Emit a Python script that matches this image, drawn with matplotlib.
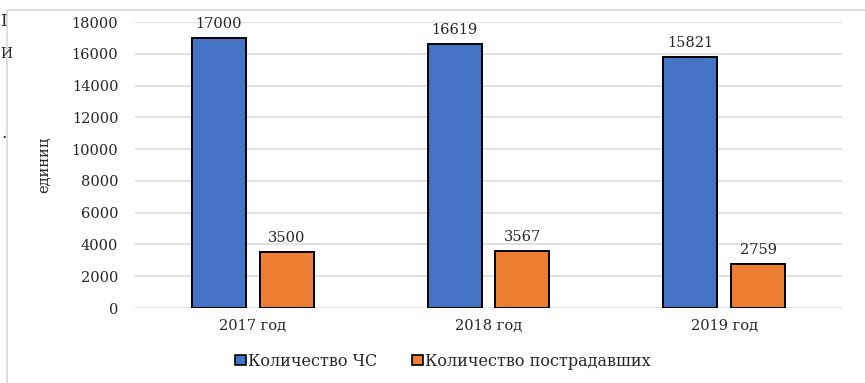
import matplotlib
matplotlib.use('Agg')
import matplotlib.pyplot as plt
import numpy as np
from matplotlib.patches import Patch
from matplotlib.lines import Line2D

# annual figures
years = ['2017 год', '2018 год', '2019 год']
emergencies = [17000, 16619, 15821]
victims = [3500, 3567, 2759]
series_names = ['Количество ЧС', 'Количество пострадавших']
colors = ['#4472C4', '#ED7D31']

plt.rcParams['font.family'] = ['DejaVu Serif']
W, H = 865, 383
txt = '#262626'

fig = plt.figure(figsize=(W / 100, H / 100), dpi=100)
ax = fig.add_axes([135 / W, 1 - 308 / H, (842 - 135) / W, (308 - 22) / H])

x = np.arange(len(years))
width = 0.229
offset = 0.144

for vals, dx, col in [(emergencies, -offset, colors[0]), (victims, offset, colors[1])]:
    bars = ax.bar(x + dx, vals, width, color=col, edgecolor='black',
                  linewidth=1.4, zorder=3)
    for b, v in zip(bars, vals):
        ax.annotate(str(v), (b.get_x() + b.get_width() / 2, v),
                    xytext=(0, 5), textcoords='offset points',
                    ha='center', va='bottom', fontsize=10.5, color=txt)

ax.set_xlim(-0.5, len(years) - 0.5)
ax.set_ylim(0, 18000)
ax.set_yticks(np.arange(0, 18001, 2000))
ax.set_xticks(x)
ax.set_xticklabels(years, fontsize=11)
ax.tick_params(length=0, labelsize=10.5, labelcolor=txt)
ax.tick_params(axis='y', pad=12)
ax.tick_params(axis='x', pad=8)
ax.grid(axis='y', color='#d9d9d9', linewidth=1.1, zorder=0)
for s in ax.spines.values():
    s.set_visible(False)

ax.set_ylabel('единиц', fontsize=10.5, color=txt, labelpad=15)

handles = [Patch(facecolor=c, edgecolor='black', linewidth=1.2) for c in colors]
fig.legend(handles, series_names, loc='center', bbox_to_anchor=(443 / W, 1 - 361 / H),
           ncol=2, frameon=False, fontsize=11.5, handlelength=0.65, handleheight=0.65,
           handletextpad=0.15, columnspacing=2.2, labelcolor=txt)

# outer chart frame
fig.add_artist(Line2D([7 / W, 7 / W, 1], [0, 1 - 10 / H, 1 - 10 / H],
                      color='#d9d9d9', linewidth=1.2))

# edge of the surrounding page text
fig.text(0, 1 - 22 / H, 'I', fontsize=12, va='center', ha='left', color=txt)
fig.text(0, 1 - 54 / H, 'И', fontsize=10, va='center', ha='left', color=txt)
fig.text(1 / W, 1 - 133 / H, '.', fontsize=12, va='center', ha='left', color=txt)

fig.savefig('out.png', dpi=100)
